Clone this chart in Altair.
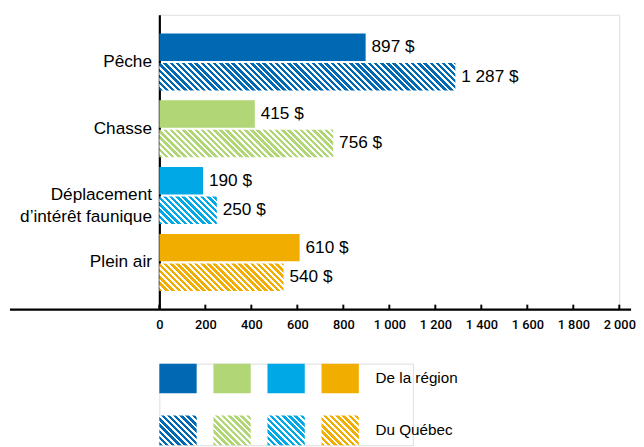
import altair as alt
import pandas as pd

# ---- data ----
categories = ["Pêche", "Chasse", "Déplacement|d’intérêt faunique", "Plein air"]
series = ["De la région", "Du Québec"]
region_values = [897, 415, 190, 610]
quebec_values = [1287, 756, 250, 540]
region_labels = ["897 $", "415 $", "190 $", "610 $"]
quebec_labels = ["1 287 $", "756 $", "250 $", "540 $"]
tick_values = [0, 200, 400, 600, 800, 1000, 1200, 1400, 1600, 1800, 2000]
colors = ["#0069B4", "#B0D675", "#00A9E6", "#F2AE00"]

W_PLOT, H_PLOT = 468, 300
X_MAX = 2000
FONT = "Liberation Sans"
TICK_FONT = "Roboto"

rows = []
for i, c in enumerate(categories):
    rows.append({"category": c, "series": series[0], "value": region_values[i], "label": region_labels[i]})
    rows.append({"category": c, "series": series[1], "value": quebec_values[i], "label": quebec_labels[i]})
df = pd.DataFrame(rows)
ticks_df = pd.DataFrame({"v": tick_values})
one_df = pd.DataFrame({"a": [0]})

# band geometry (used only for the hatch angle)
Y_PI, Y_PO = 0.147, 0.28
O_PI = 0.07
step = H_PLOT / (len(categories) - Y_PI + 2 * Y_PO)
bw = step * (1 - Y_PI)
bar_h = bw / (2 - O_PI) * (1 - O_PI)


def hatch(color, W, H, period=6.3, frac=0.56):
    L = W + H
    stops = []
    i = 0
    while i * period < L:
        a = i * period / L
        b = min((i * period + frac * period) / L, 1.0)
        c = min((i + 1) * period / L, 1.0)
        stops += [
            {"offset": round(a, 5), "color": color},
            {"offset": round(b, 5), "color": color},
            {"offset": round(b, 5), "color": "#ffffff"},
            {"offset": round(c, 5), "color": "#ffffff"},
        ]
        i += 1
    k = L / (W * W + H * H)
    return {"gradient": "linear", "x1": 0, "y1": 1, "x2": k * W, "y2": 1 - k * H, "stops": stops}


x_enc = alt.X(
    "value:Q",
    scale=alt.Scale(domain=[0, X_MAX], nice=False),
    axis=alt.Axis(
        values=tick_values, domain=False, ticks=False, grid=False, title=None,
        labelPadding=9, labelFont=TICK_FONT, labelFontSize=13, labelFontWeight=500,
        labelColor="#000000",
        labelExpr="replace(format(datum.value, ','), ',', ' ')",
        labelFlush=False,
    ),
)
y_enc = alt.Y(
    "category:N",
    sort=categories,
    scale=alt.Scale(domain=categories, paddingInner=Y_PI, paddingOuter=Y_PO),
    axis=alt.Axis(
        title=None, ticks=False, domain=True, domainColor="#000000", domainWidth=2.2,
        labelPadding=8, labelFont=FONT, labelFontSize=17.5, labelColor="#000000",
        labelExpr="split(datum.label, '|')", labelLineHeight=22, labelLimit=300,
    ),
)
yo_enc = alt.YOffset("series:N", scale=alt.Scale(domain=series, paddingInner=O_PI, paddingOuter=0))

base = alt.Chart(df).encode(x=x_enc, y=y_enc, yOffset=yo_enc)

solid = base.transform_filter(alt.datum.series == series[0]).mark_bar().encode(
    color=alt.Color("category:N", scale=alt.Scale(domain=categories, range=colors), legend=None)
)

hatched_layers = []
for i, c in enumerate(categories):
    W = quebec_values[i] / X_MAX * W_PLOT
    g = hatch(colors[i], W, bar_h)
    hatched_layers.append(
        base.transform_filter((alt.datum.series == series[1]) & (alt.datum.category == c)).mark_bar(fill=g)
    )

labels = base.mark_text(align="left", baseline="middle", dx=6, font=FONT, fontSize=17.5, color="#000000").encode(
    text="label:N"
)

x_line = alt.Chart(one_df).mark_rule(color="#000000", strokeWidth=2.2).encode(
    x=alt.value(-152), x2=alt.value(480), y=alt.value(H_PLOT)
)
tick_marks = alt.Chart(ticks_df).mark_rule(color="#000000", strokeWidth=2).encode(
    x=alt.X("v:Q", scale=alt.Scale(domain=[0, X_MAX], nice=False)),
    y=alt.value(H_PLOT - 5), y2=alt.value(H_PLOT),
)

main = alt.layer(solid, *hatched_layers, labels, tick_marks, x_line).properties(width=W_PLOT, height=H_PLOT)

# ---- legend ----
slots = ["s0", "s1", "s2", "s3", "label"]
leg_rows = []
for i in range(4):
    leg_rows.append({"slot": slots[i], "row": series[0], "ci": slots[i]})
    leg_rows.append({"slot": slots[i], "row": series[1], "ci": slots[i]})
leg_df = pd.DataFrame(leg_rows)
leg_text_df = pd.DataFrame({"slot": ["label", "label"], "row": series})

LEG_W = 258
LEG_H = 83
lx = alt.X("slot:N", scale=alt.Scale(domain=slots, paddingInner=0.31, paddingOuter=0), axis=None)
ly = alt.Y("row:N", scale=alt.Scale(domain=series, paddingInner=0.43, paddingOuter=0), axis=None)

leg_base = alt.Chart(leg_df).encode(x=lx, y=ly)
leg_solid = leg_base.transform_filter(alt.datum.row == series[0]).mark_rect().encode(
    color=alt.Color("ci:N", scale=alt.Scale(domain=slots[:4], range=colors), legend=None)
)
sq_w = LEG_W / (5 - 0.31) * (1 - 0.31)
sq_h = LEG_H / (2 - 0.43) * (1 - 0.43)
leg_hatch = []
for i in range(4):
    g = hatch(colors[i], sq_w, sq_h)
    leg_hatch.append(
        leg_base.transform_filter((alt.datum.row == series[1]) & (alt.datum.slot == slots[i])).mark_rect(fill=g)
    )
leg_text = alt.Chart(leg_text_df).mark_text(
    align="left", baseline="middle", font=FONT, fontSize=15.5, color="#000000"
).encode(
    x=alt.X("slot:N", scale=alt.Scale(domain=slots, paddingInner=0.31, paddingOuter=0), axis=None, bandPosition=0),
    y=ly,
    text="row:N",
)
legend = alt.layer(leg_solid, *leg_hatch, leg_text).properties(width=LEG_W, height=LEG_H)

chart = (
    alt.vconcat(main, legend, spacing=55, bounds="flush")
    .resolve_scale(x="independent", y="independent", color="independent", yOffset="independent")
    .properties(padding={"left": 0, "top": 2, "right": 0, "bottom": 0})
    .configure_view(stroke=None)
    .configure(background="#ffffff")
)

chart.save("out.html", embed_options={"renderer": "svg", "actions": False})
